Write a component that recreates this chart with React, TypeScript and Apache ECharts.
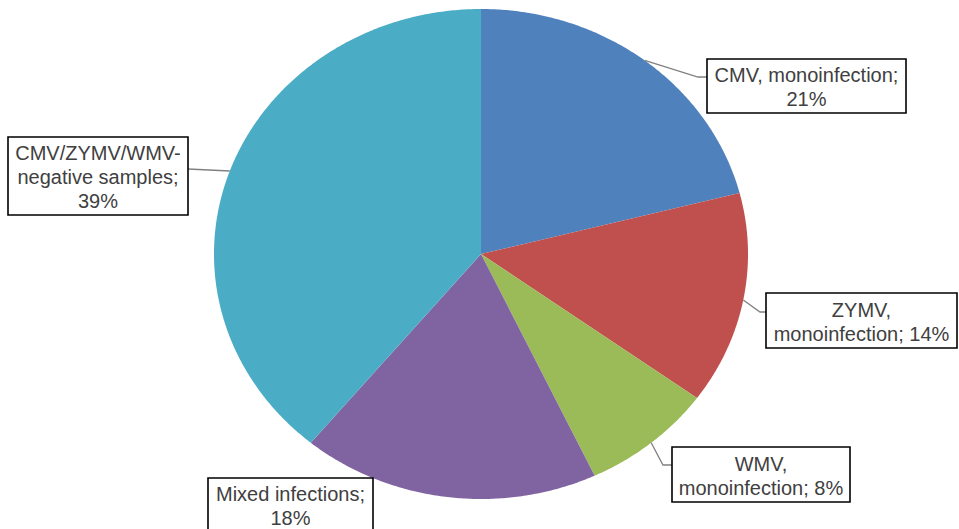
import React, { useEffect, useRef } from "react";
import * as echarts from "echarts";

// ---- data ----
const categories = [
  "CMV, monoinfection",
  "ZYMV,\nmonoinfection",
  "WMV,\nmonoinfection",
  "Mixed infections",
  "CMV/ZYMV/WMV-\nnegative samples",
];
const values = [21, 14, 8, 18, 39];
const valueSeparators = ["\n", " ", " ", "\n", "\n"];

// ---- styles / layout ----
const colors = ["#4F81BD", "#C0504D", "#9BBB59", "#8064A2", "#4BACC6"];
const CX = 481;
const CY = 254;
const RX = 267;
const RY = 245;
const boxes: { x: number; y: number; w: number; h: number; line: number[][] | null }[] = [
  { x: 707, y: 59, w: 199, h: 54, line: [[698, 77], [707, 77]] },
  { x: 766, y: 293, w: 191, h: 55, line: [[760, 312], [766, 312]] },
  { x: 672, y: 447, w: 178, h: 55, line: [[663, 465], [672, 465]] },
  { x: 208, y: 478, w: 165, h: 54, line: null },
  { x: 8, y: 137, w: 180, h: 78, line: [[188, 169]] },
];

const total = values.reduce((a, b) => a + b, 0);
const starts: number[] = [];
{
  let acc = 0;
  for (const v of values) {
    starts.push((acc / total) * Math.PI * 2);
    acc += v;
  }
}
const pt = (a: number) => [CX + RX * Math.sin(a), CY - RY * Math.cos(a)];

export default function App() {
  const ref = useRef<HTMLDivElement>(null);
  useEffect(() => {
    if (!ref.current) return;
    const chart = echarts.init(ref.current, undefined, { renderer: "svg" });
    const data = values.map((v, i) => ({ name: categories[i], value: v }));
    chart.setOption({
      animation: false,
      backgroundColor: "#ffffff",
      series: [
        {
          type: "custom",
          coordinateSystem: "none",
          data,
          z: 1,
          renderItem: (params: any) => {
            const i = params.dataIndex;
            const a0 = starts[i];
            const a1 = a0 + (values[i] / total) * Math.PI * 2;
            const n = Math.max(2, Math.ceil((a1 - a0) / (Math.PI / 360)));
            const pts: number[][] = [[CX, CY]];
            for (let k = 0; k <= n; k++) pts.push(pt(a0 + ((a1 - a0) * k) / n));
            return {
              type: "polygon",
              shape: { points: pts },
              style: { fill: colors[i] },
            };
          },
        },
        {
          type: "custom",
          coordinateSystem: "none",
          data,
          z: 5,
          renderItem: (params: any) => {
            const i = params.dataIndex;
            const mid = starts[i] + (values[i] / total) * Math.PI;
            const b = boxes[i];
            const children: any[] = [];
            if (b.line) {
              children.push({
                type: "polyline",
                shape: { points: [pt(mid), ...b.line] },
                style: { stroke: "#808080", lineWidth: 1.3, fill: null },
              });
            }
            children.push({
              type: "rect",
              shape: { x: b.x, y: b.y, width: b.w, height: b.h },
              style: { fill: "#ffffff", stroke: "#000000", lineWidth: 1.6 },
            });
            children.push({
              type: "text",
              style: {
                text: categories[i] + ";" + valueSeparators[i] + values[i] + "%",
                x: b.x + b.w / 2,
                y: b.y + b.h / 2 + 1,
                align: "center",
                verticalAlign: "middle",
                font: '20px "Liberation Sans", Arial, sans-serif',
                fill: "#404040",
                lineHeight: 24,
              },
            });
            return { type: "group", children };
          },
        },
      ],
    });
    return () => chart.dispose();
  }, []);
  return (
    <div
      ref={ref}
      style={{ position: "fixed", left: 0, top: 0, width: 959, height: 529, background: "#fff" }}
    />
  );
}
